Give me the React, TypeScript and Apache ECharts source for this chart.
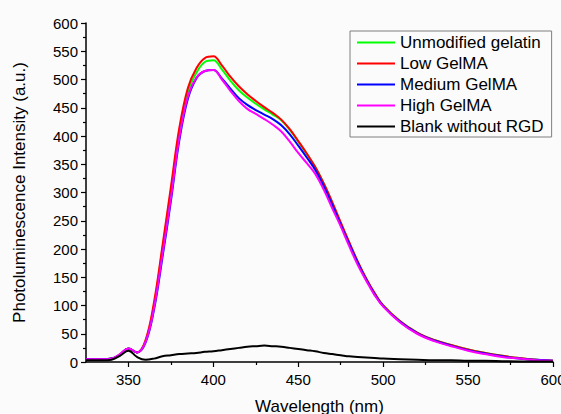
import React, { useEffect, useRef } from "react";
import * as echarts from "echarts";

const wavelengths = [325, 330, 335, 340, 345, 350, 355, 360, 365, 370, 375, 380, 385, 390, 395, 400, 405, 410, 415, 420, 425, 430, 435, 440, 445, 450, 455, 460, 465, 470, 475, 480, 485, 490, 495, 500, 510, 520, 530, 540, 550, 560, 570, 580, 590, 600];

const unmodifiedGelatin = [5, 5, 5, 6, 13, 24, 17, 37, 100, 200, 303, 408, 478, 512, 531, 534, 518, 498, 481, 468, 457, 447, 438, 428, 411, 390, 368, 345, 316, 282, 246, 211, 177, 147, 121, 100, 72, 52, 39, 30, 22, 16, 11, 7, 4, 2];
const lowGelMA = [5, 5, 5, 6, 13, 24, 17, 38, 105, 205, 310, 415, 485, 520, 538, 541, 525, 505, 488, 474, 462, 451, 441, 429, 412, 391, 369, 345, 316, 283, 247, 212, 178, 148, 122, 100, 72, 52, 39, 30, 22, 16, 11, 7, 4, 2];
const mediumGelMA = [5, 5, 5, 6, 13, 24, 17, 34, 92, 185, 285, 393, 466, 502, 515, 517, 502, 484, 467, 455, 446, 438, 430, 419, 403, 383, 362, 340, 311, 278, 243, 209, 176, 146, 120, 99, 71, 51, 38, 29, 21, 15, 10, 6, 4, 2];
const highGelMA = [5, 5, 5, 6, 14, 24, 17, 35, 95, 190, 290, 398, 470, 503, 515, 517, 500, 480, 462, 448, 439, 430, 420, 408, 390, 370, 352, 333, 305, 272, 240, 205, 172, 144, 118, 98, 70, 50, 37, 28, 20, 14, 9, 6, 3, 2];
const blankWithoutRGD = [3, 3, 3, 4, 11, 20, 9, 4, 6, 10, 12, 14, 15, 16, 18, 19, 21, 23, 25, 27, 28, 29, 28, 27, 25, 23, 21, 19, 16, 14, 12, 10, 9, 8, 7, 6, 5, 4, 3, 3, 2, 2, 1.5, 1, 1, 1];

const seriesNames = ["Unmodified gelatin", "Low GelMA", "Medium GelMA", "High GelMA", "Blank without RGD"];
const seriesColors = ["#00ff00", "#ff0000", "#0000ff", "#ff00ff", "#000000"];
const seriesValues = [unmodifiedGelatin, lowGelMA, mediumGelMA, highGelMA, blankWithoutRGD];

const xMajorTicks = [350, 400, 450, 500, 550, 600];
const xMinorTicks = [375, 425, 475, 525, 575];

const FONT = "'Liberation Sans', Arial, sans-serif";

export default function App() {
  const ref = useRef<HTMLDivElement>(null);
  useEffect(() => {
    if (!ref.current) return;
    const chart = echarts.init(ref.current, null, { renderer: "svg" });
    chart.setOption({
      animation: false,
      backgroundColor: "#fbfbfb",
      textStyle: { fontFamily: FONT },
      grid: { left: 86, right: 8, top: 23, bottom: 52, containLabel: false, outerBoundsMode: "none" },
      legend: {
        orient: "vertical",
        left: 350,
        top: 31,
        icon: "rect",
        itemWidth: 38,
        itemHeight: 2,
        itemGap: 4,
        padding: [3, 8, 2, 7],
        borderColor: "#7f7f7f",
        borderWidth: 1,
        backgroundColor: "#fbfbfb",
        textStyle: { fontSize: 17, color: "#000", fontFamily: FONT },
        data: seriesNames,
      },
      xAxis: [
        {
          type: "value",
          min: 325,
          max: 600,
          name: "Wavelength (nm)",
          nameLocation: "middle",
          nameGap: 36,
          nameTextStyle: { fontSize: 17, color: "#000", fontFamily: FONT },
          splitLine: { show: false },
          axisLine: { show: true, onZero: false, lineStyle: { color: "#000", width: 1.5 } },
          axisTick: { show: true, customValues: xMajorTicks, length: 5, lineStyle: { color: "#000", width: 1.2 } },
          axisLabel: { customValues: xMajorTicks, fontSize: 15, color: "#000", margin: 10, fontFamily: FONT },
        },
        {
          type: "value",
          min: 325,
          max: 600,
          position: "bottom",
          splitLine: { show: false },
          axisLine: { show: false, onZero: false },
          axisTick: { show: true, customValues: xMinorTicks, length: 3, lineStyle: { color: "#000", width: 1.2 } },
          axisLabel: { show: false },
        },
      ],
      yAxis: {
        type: "value",
        min: 0,
        max: 600,
        interval: 50,
        name: "Photoluminescence Intensity (a.u.)",
        nameLocation: "middle",
        nameGap: 58,
        nameTextStyle: { fontSize: 17, color: "#000", fontFamily: FONT },
        splitLine: { show: false },
        axisLine: { show: true, lineStyle: { color: "#000", width: 1.5 } },
        axisTick: { show: true, length: 5, lineStyle: { color: "#000", width: 1.2 } },
        minorTick: { show: true, splitNumber: 2, length: 3, lineStyle: { color: "#000", width: 1.2 } },
        axisLabel: { fontSize: 15, color: "#000", margin: 8, fontFamily: FONT },
      },
      series: seriesNames.map((name, i) => ({
        name,
        type: "line",
        xAxisIndex: 0,
        data: wavelengths.map((w, j) => [w, seriesValues[i][j]]),
        smooth: 0.4,
        symbol: "none",
        showSymbol: false,
        lineStyle: { color: seriesColors[i], width: 2 },
        itemStyle: { color: seriesColors[i] },
        z: 2 + i,
      })),
    });
    return () => chart.dispose();
  }, []);
  return (
    <div
      ref={ref}
      style={{ position: "fixed", left: 0, top: 0, width: 561, height: 414 }}
    />
  );
}
